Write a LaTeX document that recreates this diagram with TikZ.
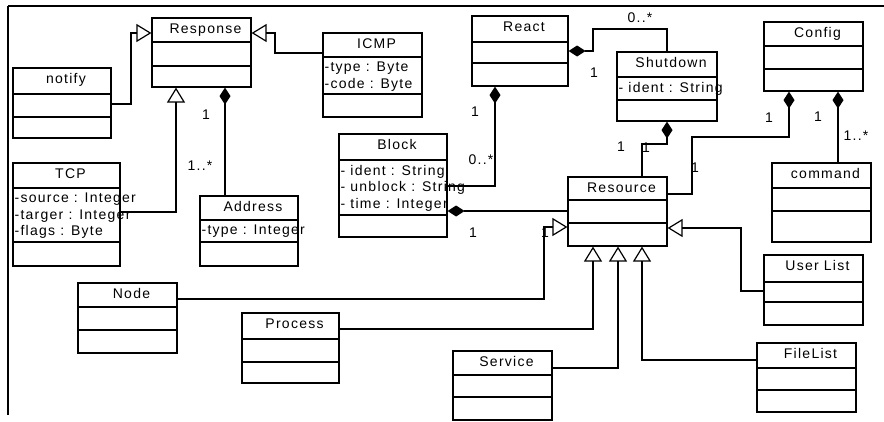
\documentclass[tikz,border=0pt]{standalone}
\usepackage{fontspec}
\setmainfont{Liberation Sans}[LetterSpace=9]
\usetikzlibrary{arrows.meta,fit}

% class box: id, left, top, right, bottom, 1st divider, 2nd divider, title, attributes
\newcommand{\umlclass}[9]{%
  \node[cls, fit={(#2,#3) (#4,#5)}] (#1) {};
  \draw (#2,#6) -- (#4,#6) (#2,#7) -- (#4,#7);
  \node[clsname] (#1-name) at ({(#2+#4)/2+4},{#3+15.5}) {#8};
  \node[clsattr] (#1-attr) at (#2,#6) {#9};
}

\begin{document}
\begin{tikzpicture}[x=1pt, y=-1pt, line width=1.2pt, font=\fontsize{14}{16.5}\selectfont,
    cls/.style={draw, inner sep=0pt},
    clsname/.style={anchor=base, inner sep=0pt},
    clsattr/.style={anchor=north west, align=left, inner xsep=1pt, inner ysep=4.5pt},
    mult/.style={inner sep=0pt},
    gen/.style={-{Triangle[open, length=15pt, width=18pt]}},
    comp/.style={{Diamond[length=17pt, width=11pt]}-}]
  \useasboundingbox (0,0) rectangle (884,421);
  % frame
  \draw[line width=2.5pt] (8,6) -- (8,415);
  \draw[line width=2pt] (8,6) -- (884,6);

  % classes
  \umlclass{resp}{152}{18}{251}{87}{42}{66}{Response}{}
  \umlclass{notify}{13}{68}{111}{138}{94}{117}{notify}{}
  \umlclass{icmp}{323}{33}{422}{117}{57}{94}{ICMP}{-type : Byte\\-code : Byte}
  \umlclass{tcp}{13}{163}{120}{266}{188}{242}{TCP}{-source : Integer\\-targer : Integer\\-flags : Byte}
  \umlclass{addr}{200}{196}{298}{266}{220}{242}{Address}{-type : Integer}
  \umlclass{react}{472}{16}{568}{86}{42}{63}{React}{}
  \umlclass{shut}{617}{52}{717}{121}{77}{100}{Shutdown}{- ident : String}
  \umlclass{config}{764}{22}{863}{91}{46}{69}{Config}{}
  \umlclass{cmd}{772}{163}{871}{242}{188}{211}{command}{}
  \umlclass{block}{339}{134}{447}{237}{160}{215}{Block}{- ident : String\\- unblock : String\\- time : Integer}
  \umlclass{res}{568}{177}{667}{246}{200}{223}{Resource}{}
  \umlclass{node}{78}{283}{177}{353}{307}{330}{Node}{}
  \umlclass{proc}{242}{313}{339}{383}{339}{362}{Process}{}
  \umlclass{serv}{453}{351}{552}{420}{375}{397}{Service}{}
  \umlclass{ulist}{764}{255}{863}{325}{282}{302}{User List}{}
  \umlclass{flist}{757}{343}{856}{412}{368}{390}{FileList}{}

  % generalisations
  \draw[gen] (notify.east |- 0,104) -| (131,33) -- (resp.west |- 0,33);
  \draw[gen] (icmp.west |- 0,53) -| (275,33) -- (resp.east |- 0,33);
  \draw[gen] (tcp.east |- 0,212) -| (resp.south -| 176,0);
  \draw[gen] (node.east |- 0,299) -| (544,227) -- (res.west |- 0,227);
  \draw[gen] (proc.east |- 0,329) -| (res.south -| 593,0);
  \draw[gen] (serv.east |- 0,368) -| (res.south -| 618,0);
  \draw[gen] (flist.west |- 0,360) -| (res.south -| 642,0);
  \draw[gen] (ulist.west |- 0,291) -| (741,228) -- (res.east |- 0,228);

  % compositions
  \draw[comp] (resp.south -| 225,0) -- (addr.north -| 225,0);
  \draw[comp] (react.east |- 0,51) -| (593,29) -| (shut.north);
  \draw[comp] (react.south -| 495,0) |- (block.east |- 0,186);
  \draw[comp] (block.east |- 0,211) -- (res.west |- 0,211);
  \draw[comp] (shut.south) -- (667,144) -| (res.north -| 642,0);
  \draw[comp] (config.south -| 789,0) |- (692,137) |- (res.east |- 0,194);
  \draw[comp] (config.south -| 838,0) -- (cmd.north -| 838,0);

  % multiplicities
  \node[mult] (m1) at (206,115) {1};
  \node[mult] (m2) at (200,166) {1..*};
  \node[mult] (m3) at (594,73) {1};
  \node[mult] (m4) at (640,18) {0..*};
  \node[mult] (m5) at (475,112) {1};
  \node[mult] (m6) at (481,160) {0..*};
  \node[mult] (m7) at (473,233) {1};
  \node[mult] (m8) at (621,147) {1};
  \node[mult] (m9) at (646,148) {1};
  \node[mult] (m10) at (769,118) {1};
  \node[mult] (m11) at (695,168) {1};
  \node[mult] (m12) at (818,117) {1};
  \node[mult] (m13) at (856,136) {1..*};
  \node[mult] (m14) at (545,233) {1};
\end{tikzpicture}
\end{document}
